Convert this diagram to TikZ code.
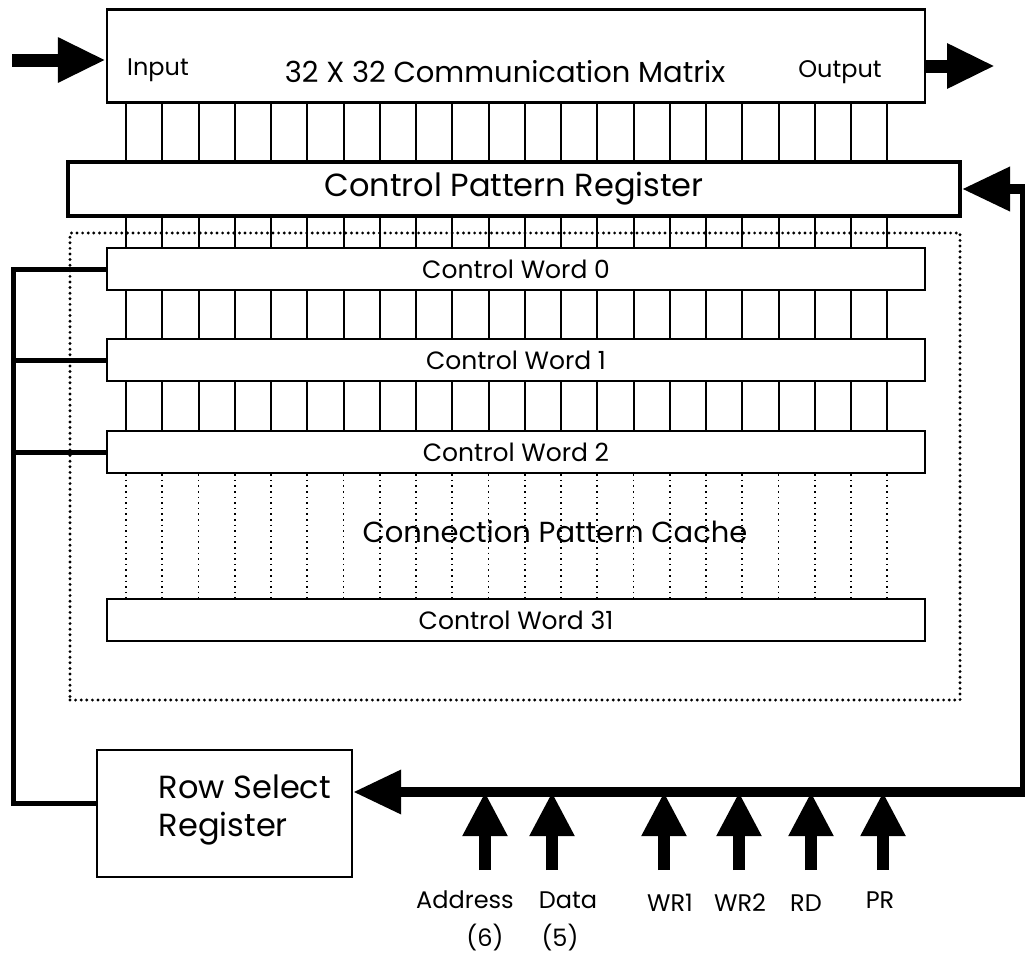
\documentclass[tikz,border=0pt]{standalone}
\usepackage{fontspec}
\setmainfont{Poppins}
\usetikzlibrary{arrows.meta,positioning}

\begin{document}
\begin{tikzpicture}[x=0.5pt, y=-0.5pt,
    box/.style={draw, line width=1.2pt, minimum width=409pt, minimum height=21pt, inner sep=0pt, font=\fontsize{12.5}{14}\selectfont},
    wlbl/.style={font=\fontsize{12}{14}\selectfont},
    big/.style={font=\fontsize{14.5}{17}\selectfont},
    lnk/.style={line width=1pt},
    bus/.style={line width=2.5pt},
    fat/.style={line width=5pt, -{Triangle[length=24pt, width=21pt]}},
    sig/.style={line width=6pt, -{Triangle[length=22pt, width=21pt]}}
]
\useasboundingbox (0,0) rectangle (1029,953);

% matrix and pattern register
\node[draw, line width=1.2pt, minimum width=409pt, minimum height=46.5pt, inner sep=0pt] (cmm) at (516,56) {};
\node[big] (title) at (505,72) {32 X 32 Communication Matrix};
\node[wlbl] (inlbl) at (158,70) {Input};
\node[wlbl] (outlbl) at (840,72) {Output};
\node[draw, line width=2pt, minimum width=446pt, minimum height=27pt, font=\fontsize{16}{19}\selectfont] (cpr) at (514,189) {Control Pattern Register};

% cache
\node[draw, line width=1.6pt, line cap=round, dash pattern=on 0pt off 2.8pt, minimum width=445pt, minimum height=233.5pt] (cache) at (515,466.5) {};
\node[big] (cachelbl) at (555,532) {Connection Pattern Cache};
\foreach \n/\y in {0/269,1/360,2/452,31/620}
  \node[box] (cw\n) at (516,\y) {Control Word \n};

\foreach \i in {0,...,21} {
  \pgfmathsetmacro\xx{126+36.25*\i}
  \draw[lnk] (\xx,0 |- cmm.south) -- (\xx,0 |- cpr.north);
  \draw[lnk] (\xx,0 |- cpr.south) -- (\xx,0 |- cw0.north);
  \draw[lnk] (\xx,0 |- cw0.south) -- (\xx,0 |- cw1.north);
  \draw[lnk] (\xx,0 |- cw1.south) -- (\xx,0 |- cw2.north);
  \draw[dotted, line width=0.8pt] (\xx,0 |- cw2.south) -- (\xx,0 |- cw31.north);
}

% row select
\node[draw, line width=1.2pt, minimum width=127.5pt, minimum height=63.5pt] (rsr) at (224.5,813.5) {};
\node[font=\fontsize{16}{19}\selectfont, align=left] (rsrlbl) at (245,810) {Row Select\\Register};

\coordinate (lb) at (13,803);
\draw[bus] (cw0.west) -| (lb) -- (lb -| rsr.west);
\draw[bus] (cw1.west) -- (cw1.west -| lb);
\draw[bus] (cw2.west) -- (cw2.west -| lb);

\coordinate (rb) at (1022,792);
\draw[bus] ([yshift=-1.25pt]rb) -- (rb |- cpr.east);
\draw[fat] ([xshift=1.25pt]rb |- cpr.east) -- (cpr.east);
\draw[fat] ([xshift=1.25pt]rb) -- (rb -| rsr.east);

% in / out
\coordinate (inp) at (12,60);
\coordinate (outp) at (995,66);
\draw[sig, line width=6.5pt, -{Triangle[length=24pt, width=21pt]}] (inp) -- (inp -| cmm.west);
\draw[sig, line width=6.5pt, -{Triangle[length=24pt, width=21pt]}] (outp -| cmm.east) -- (outp);

% control signals
\foreach \n/\x in {a/485,d/552,w/664,v/739,r/811,p/883} {
  \coordinate (s\n) at (\x,870);
  \draw[sig] (s\n) -- (s\n |- rb);
}
\node[wlbl] (addrlbl) at (465,900) {Address};
\node[wlbl] (addrn) at (485,938) {(6)};
\node[wlbl] (datalbl) at (568,900) {Data};
\node[wlbl] (datan) at (560,938) {(5)};
\node[wlbl] (wronelbl) at (670,903) {WR1};
\node[wlbl] (wrtwolbl) at (740,903) {WR2};
\node[wlbl] (rdlbl) at (806,903) {RD};
\node[wlbl] (prlbl) at (880,900) {PR};
\end{tikzpicture}
\end{document}
